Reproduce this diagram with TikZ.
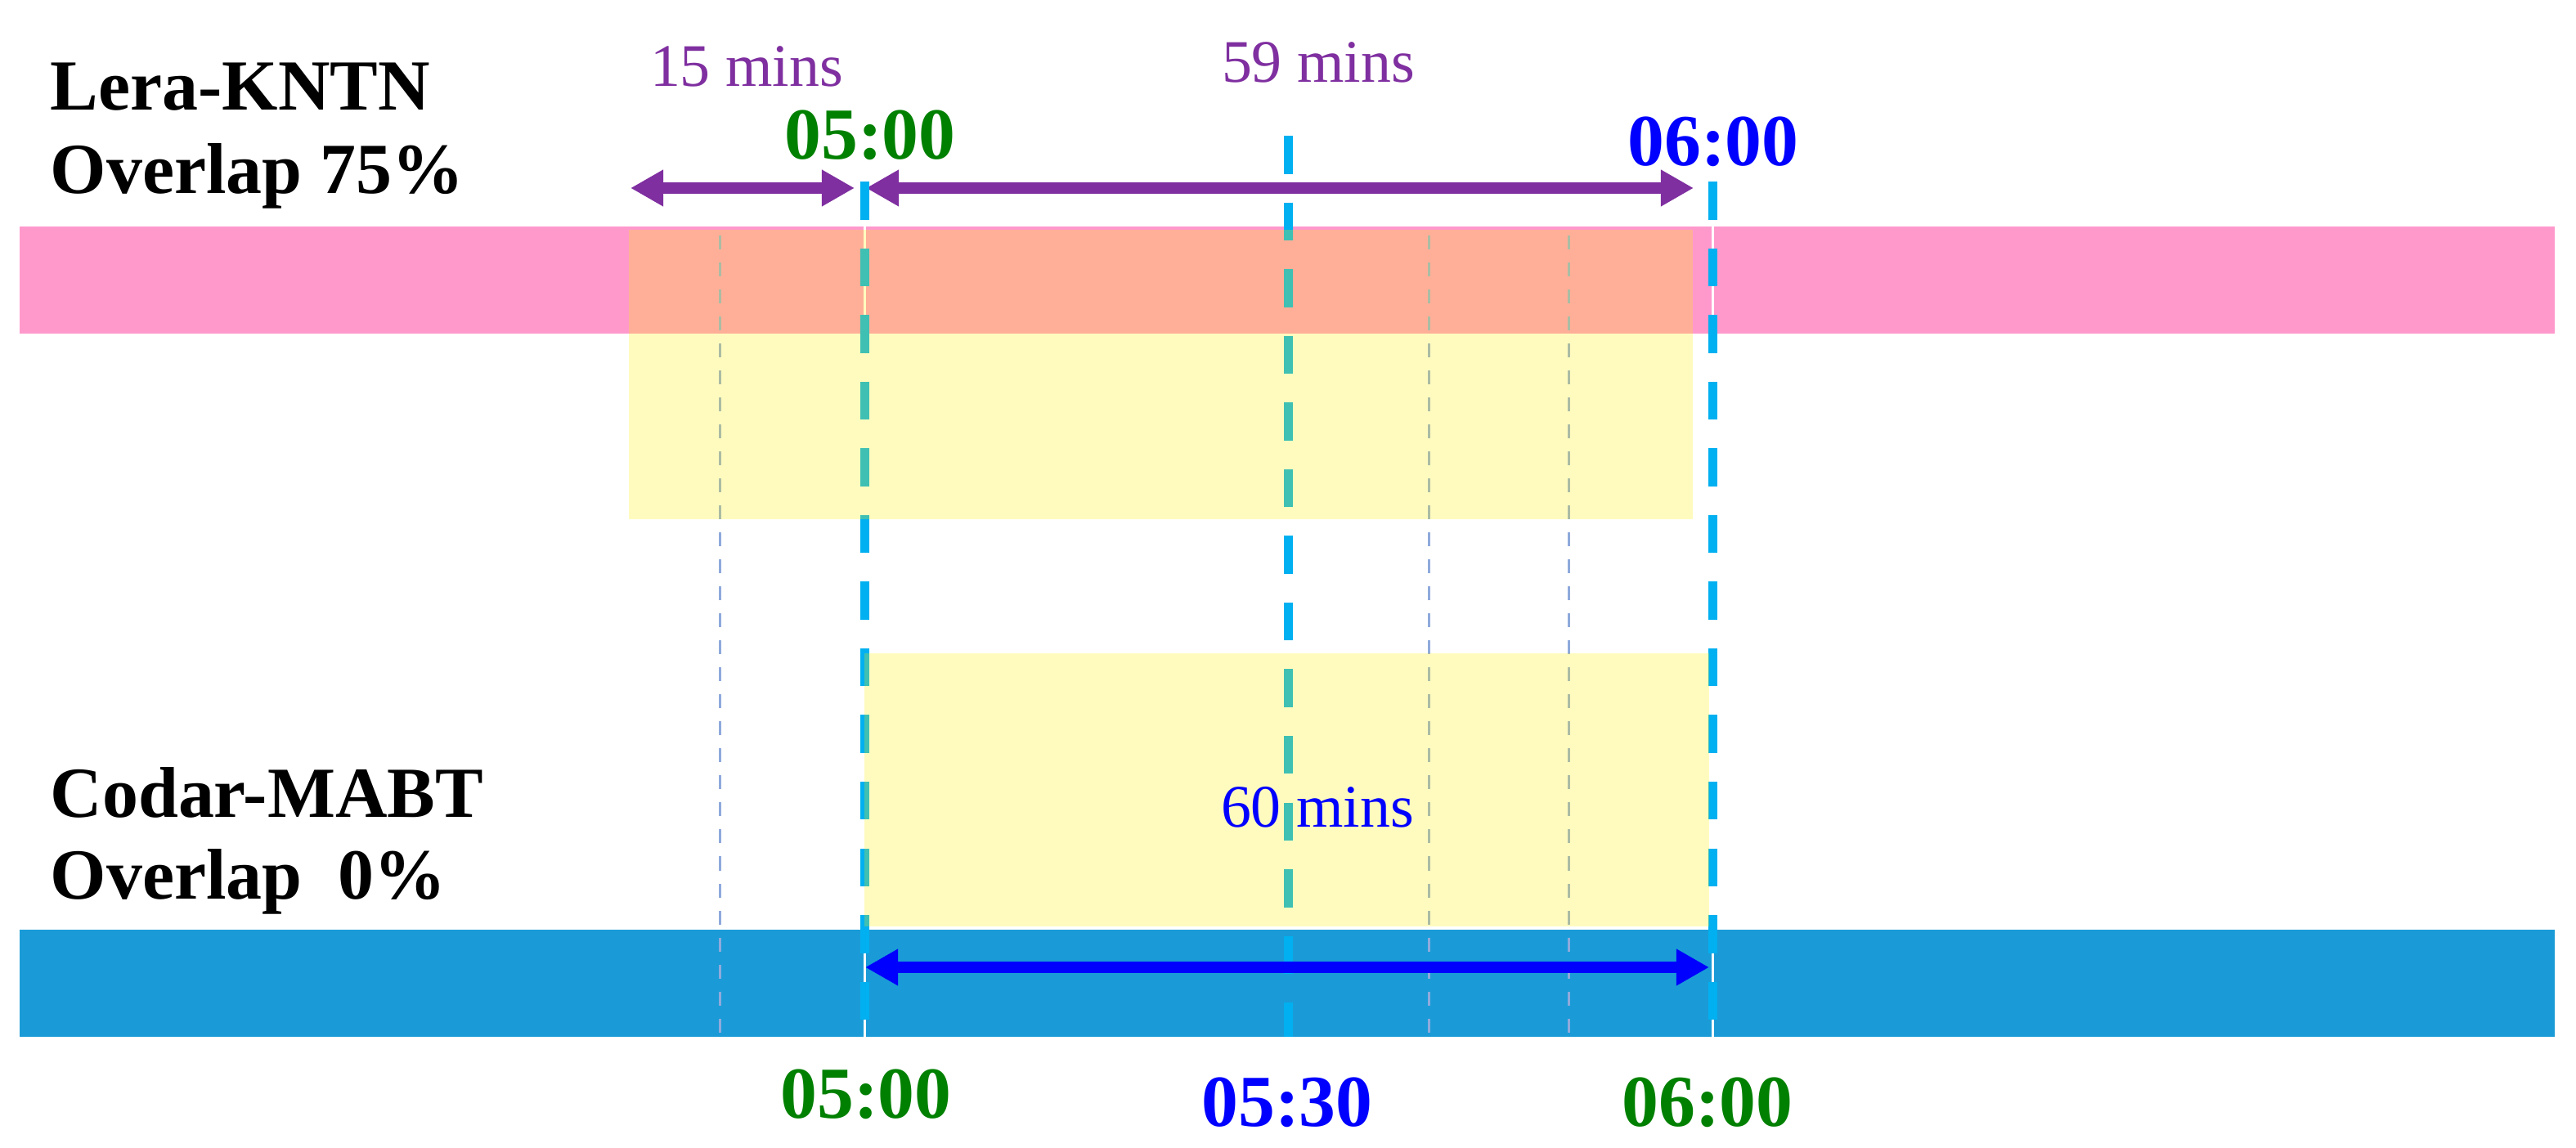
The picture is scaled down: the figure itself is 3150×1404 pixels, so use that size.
\documentclass[tikz,border=0pt]{standalone}
\usepackage{fontspec}
\setmainfont{Liberation Serif}
\usetikzlibrary{arrows.meta}
\definecolor{barpink}{HTML}{FF99CC}
\definecolor{barblue}{HTML}{1A9BD7}
\definecolor{tickcyan}{HTML}{00B0F0}
\definecolor{thinblue}{HTML}{8FAADC}
\definecolor{arrpurple}{HTML}{7F2FA0}
\definecolor{txtgreen}{HTML}{008000}
\definecolor{txtblue}{HTML}{0000FF}
\definecolor{txtpurple}{HTML}{7F2FA0}
\begin{document}
\begin{tikzpicture}[x=0.01cm,y=-0.01cm,
  sidelbl/.style={inner sep=0pt,anchor=base west,font=\fontsize{25}{30}\selectfont\bfseries},
  timelbl/.style={inner sep=0pt,anchor=base,font=\fontsize{25.5}{30}\selectfont\bfseries},
  minlbl/.style={inner sep=0pt,anchor=base,font=\fontsize{21}{25}\selectfont},
  ticktrack/.style={draw=white,line width=0.85pt},
  tickline/.style={draw=tickcyan,line width=3.13pt,dash pattern=on 13.23pt off 9.96pt},
  thindash/.style={draw=thinblue,line width=0.85pt,dash pattern=on 4.84pt off 4.55pt},
  purarrow/.style={draw=arrpurple,line width=4.1pt,{Triangle[length=0.4cm,width=0.42cm]}-{Triangle[length=0.4cm,width=0.42cm]}},
  bluarrow/.style={draw=txtblue,line width=4.2pt,{Triangle[length=0.4cm,width=0.42cm]}-{Triangle[length=0.4cm,width=0.42cm]}},
  yelbox/.style={fill=yellow,fill opacity=0.25}
]
\useasboundingbox (0,0) rectangle (3150,1404);
\fill[white] (0,0) rectangle (3150,1404);

% bars
\fill[barpink] (24,277) rectangle (3124,408);
\fill[barblue] (24,1137) rectangle (3124,1268);

% purple arrows
\coordinate (p15a) at (771,230);
\coordinate (p15b) at (1045,230);
\coordinate (p59a) at (1059,230);
\coordinate (p59b) at (2071,230);
\draw[purarrow] (p15a) -- (p15b);
\draw[purarrow] (p59a) -- (p59b);

% thin dashed lines
\coordinate (t1a) at (880,288);  \coordinate (t1b) at (880,1268);
\coordinate (t2a) at (1747,288); \coordinate (t2b) at (1747,1268);
\coordinate (t3a) at (1918,288); \coordinate (t3b) at (1918,1268);
\draw[thindash] (t1a) -- (t1b);
\draw[thindash] (t2a) -- (t2b);
\draw[thindash] (t3a) -- (t3b);

% thick dashed time lines
\coordinate (l5a) at (1057,222);  \coordinate (l5b) at (1057,1268);
\coordinate (l53a) at (1575,166); \coordinate (l53b) at (1575,1268);
\coordinate (l6a) at (2094,222);  \coordinate (l6b) at (2094,1268);
\draw[ticktrack] (l5a) -- (l5b);
\draw[ticktrack] (l6a) -- (l6b);
\draw[tickline] (l5a) -- (l5b);
\draw[tickline] (l53a) -- (l53b);
\draw[tickline] (l6a) -- (l6b);

% yellow windows
\fill[yelbox] (769,281) rectangle (2070,635);
\fill[yelbox] (1057,799) rectangle (2090,1133);

% blue arrow
\coordinate (b60a) at (1058,1183);
\coordinate (b60b) at (2090,1183);
\draw[bluarrow] (b60a) -- (b60b);

% side labels
\node[sidelbl] (lera) at (61,135) {Lera-KNTN};
\node[sidelbl] (ovl1) at (61,237) {Overlap 75\%};
\node[sidelbl] (codar) at (61,1000) {Codar-MABT};
\node[sidelbl] (ovl2) at (61,1100) {Overlap\ \ 0\%};

% minute labels
\node[minlbl,text=txtpurple] (m15) at (913,106) {15 mins};
\node[minlbl,text=txtpurple] (m59) at (1612,101) {59 mins};
\node[minlbl,text=txtblue] (m60) at (1611,1012) {60 mins};

% time labels
\node[timelbl,text=txtgreen] (top5) at (1064,195) {05:00};
\node[timelbl,text=txtblue] (top6) at (2095,203) {06:00};
\node[timelbl,text=txtgreen] (bot5) at (1059,1368) {05:00};
\node[timelbl,text=txtblue] (bot53) at (1574,1378) {05:30};
\node[timelbl,text=txtgreen] (bot6) at (2088,1378) {06:00};
\end{tikzpicture}
\end{document}
